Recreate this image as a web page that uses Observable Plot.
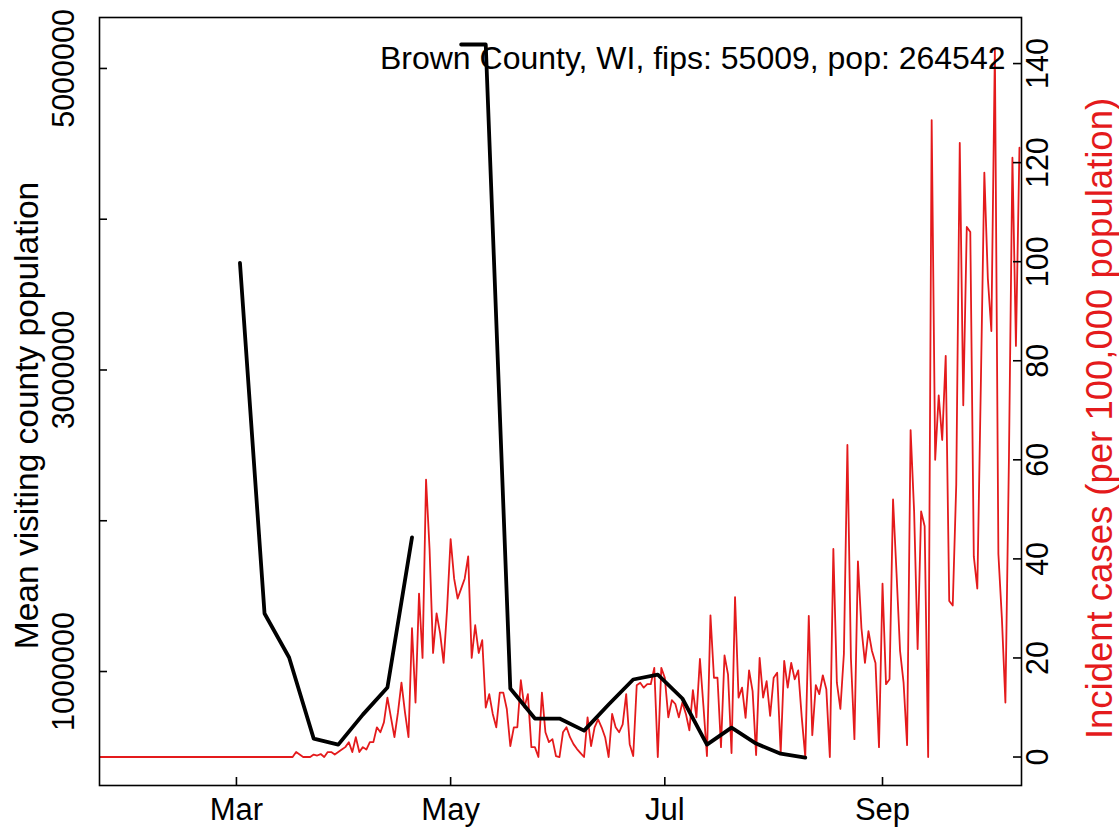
<!DOCTYPE html>
<html><head><meta charset="utf-8">
<script src="https://cdn.jsdelivr.net/npm/d3@7"></script>
<script src="https://cdn.jsdelivr.net/npm/@observablehq/plot@0.6"></script>
<style>body{margin:0;background:#fff;} #chart{width:1119px;height:829px;}</style>
</head><body><div id="chart"></div>
<script>
// ---- data ----
const title = "Brown County, WI, fips: 55009, pop: 264542";
const leftLabel = "Mean visiting county population";
const rightLabel = "Incident cases (per 100,000 population)";

// daily incident cases per 100k, starting 2020-01-22
const incidentStart = "2020-01-22";
const incidentCases = [
 0,0,0,0,0,0,0,0,0,0, 0,0,0,0,0,0,0,0,0,0,
 0,0,0,0,0,0,0,0,0,0, 0,0,0,0,0,0,0,0,0,0,
 0,0,0,0,0,0,0,0,0,0, 0,0,0,0,0,
 0,1,0.5,0,0,0,0.5,0.3,0.6,0, 1,1,0.5,1,1.5,
 2,3,1,4,1,2,1.5,3,3,6, 5,7,12,8,4,9,
 15,9,4,26,11,33,20,56,42,21, 29,25,19,30,44,36,32,34,36,40.5,
 20,26.6,21,23.6,10,12.7,8.7,6,13,13, 9.7,2.2,6,6,15.5,10,12.7,2,2,0,
 13,5,3,3.6,0.2,0,5,6,4,2.6, 1.6,0.8,0,8,2.2,6,7.6,6,4,0,
 8.7,6,5,6.6,12.7,2.6,0.2,14.5,15,14, 14.7,14.7,18,0,18,
 16,8,11.5,10.7,8,11,8.7,5.4,13.5,8, 19.8,10.3,0.2,28.6,16,16,2,20.5,16.7,0.8,
 32.3,12,14,7.9,17.5,13.3,0.4,20,12,15.3, 8.3,16,17,0.8,19.4,14,19,15.7,17.5,8,
 0,28.5,4.4,14.5,12.7,16.5,13.7,0,42,15, 9.7,20.8,63,20,3.6,39.5,26,19,25.4,21.4,
 19,2,35,14.7,15.7,52,37,21.4,15,2.4, 66,49.6,21.8,49.6,46.6,0,128.6,60,73,64,
 81,31.5,30.6,55,124,71,107,106,40.5,34, 75,118,96.6,86,143,41,28,11,60,121,
 83,123
];

// weekly mean visiting county population (null = missing week)
const weekStarts = ["2020-03-02","2020-03-09","2020-03-16","2020-03-23","2020-03-30","2020-04-06","2020-04-13","2020-04-20","2020-04-27",
 "2020-05-04","2020-05-11","2020-05-18","2020-05-25","2020-06-01","2020-06-08","2020-06-15","2020-06-22","2020-06-29",
 "2020-07-06","2020-07-13","2020-07-20","2020-07-27","2020-08-03","2020-08-10"];
const meanVisiting = [3711000,1385000,1093000,555000,515000,714000,894000,1890000,null,
 5159000,5159000,887000,688000,688000,608000,781000,947000,980000,
 821000,515000,628000,522000,455000,429000];

const xTickDates = ["2020-03-01","2020-05-01","2020-07-01","2020-09-01"];
const xTickLabels = ["Mar","May","Jul","Sep"];
const leftTicks = [1000000,2000000,3000000,4000000,5000000];
const leftLabelTicks = [1000000,3000000,5000000];
const rightTicks = [0,20,40,60,80,100,120,140];

// ---- layout ----
const W = 1119, H = 829, mL = 99, mR = 98, mT = 17, mB = 44;
const plotW = W - mL - mR, plotH = H - mT - mB;
const RED = "#e41a1c";
const leftDomain = [244000, 5338000];
const rightDomain = [-5.75, 149.3];
const toLeft = d3.scaleLinear(rightDomain, leftDomain);
const utc = s => new Date(s + "T00:00:00Z");
const xDomain = [utc("2020-01-22"), new Date(Date.UTC(2020, 9, 10, 14))];

const start = utc(incidentStart);
const redData = incidentCases.map((c, i) => ({date: d3.utcDay.offset(start, i), cases: c, yl: toLeft(c)}));
const blackData = weekStarts.map((s, i) => ({date: utc(s), value: meanVisiting[i]}));
const xTicks = xTickDates.map(utc);
const xLabelMap = new Map(xTicks.map((d, i) => [+d, xTickLabels[i]]));

const chart = Plot.plot({
  width: W, height: H,
  marginLeft: mL, marginRight: mR, marginTop: mT, marginBottom: mB,
  x: {type: "utc", domain: xDomain},
  y: {domain: leftDomain},
  style: {fontFamily: "'Liberation Sans', Arial, sans-serif", fontSize: "30px", background: "white", color: "black"},
  marks: [
    Plot.line(redData, {x: "date", y: "yl", stroke: RED, strokeWidth: 1.8, clip: true}),
    Plot.line(blackData, {x: "date", y: "value", stroke: "black", strokeWidth: 3.8, clip: true}),
    Plot.frame({stroke: "black", strokeWidth: 1.6}),
    Plot.tickY(leftTicks, {y: d => d, insetRight: plotW - 8, stroke: "black", strokeWidth: 1.6}),
    Plot.tickY(rightTicks, {y: d => toLeft(d), insetLeft: plotW - 8, stroke: "black", strokeWidth: 1.6}),
    Plot.tickX(xTicks, {x: d => d, insetTop: plotH - 8, stroke: "black", strokeWidth: 1.6}),
    Plot.axisY(leftLabelTicks, {anchor: "left", tickSize: 0, tickPadding: 26, tickRotate: -90, tickFormat: d => String(d), fontSize: 30.5, label: null}),
    Plot.axisY(rightTicks.map(d => toLeft(d)), {anchor: "right", tickSize: 0, tickPadding: 26, tickRotate: -90, tickFormat: v => String(Math.round(toLeft.invert(v))), fontSize: 30.5, label: null}),
    Plot.axisX(xTicks, {anchor: "bottom", tickSize: 0, tickPadding: 12, tickFormat: d => xLabelMap.get(+d), fontSize: 31, label: null}),
    Plot.text([leftLabel], {text: d => d, frameAnchor: "left", textAnchor: "middle", dx: -72, dy: 14, rotate: -90, fontSize: 33.5, fill: "black"}),
    Plot.text([rightLabel], {text: d => d, frameAnchor: "right", textAnchor: "middle", dx: 79, dy: 17, rotate: -90, fontSize: 36.5, fill: RED}),
    Plot.text([title], {text: d => d, frameAnchor: "top-right", dx: -16, dy: 51, textAnchor: "end", lineAnchor: "bottom", fontSize: 32, fill: "black"})
  ]
});
document.getElementById("chart").append(chart);
</script>
</body></html>
